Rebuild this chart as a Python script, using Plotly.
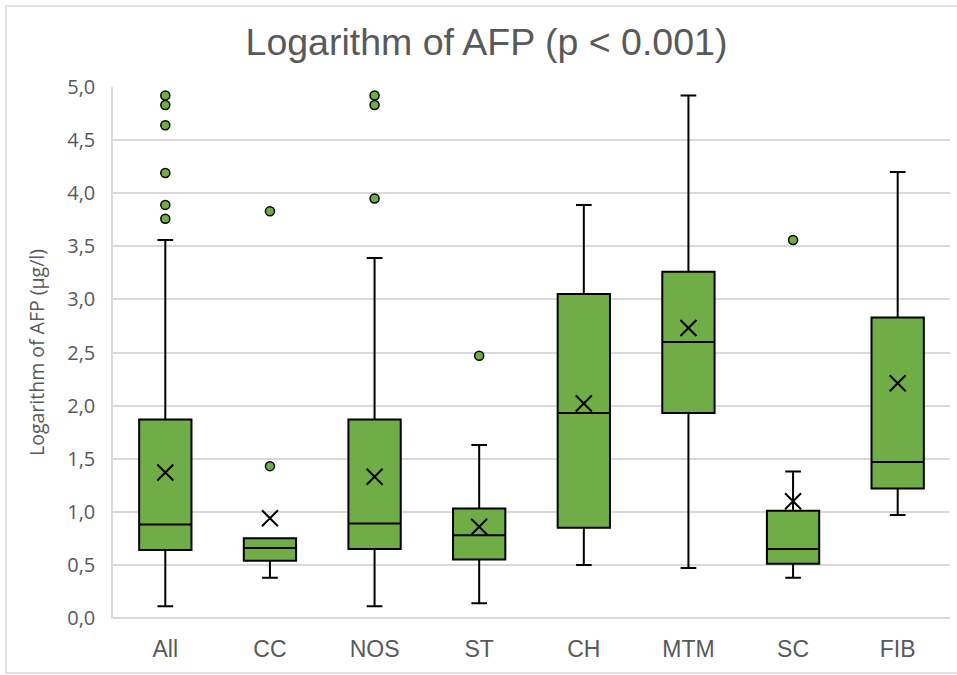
import plotly.graph_objects as go

categories = ["All", "CC", "NOS", "ST", "CH", "MTM", "SC", "FIB"]
lower_whisker = [0.11, 0.38, 0.11, 0.14, 0.50, 0.47, 0.38, 0.97]
q1 = [0.64, 0.54, 0.65, 0.55, 0.85, 1.93, 0.51, 1.22]
median = [0.88, 0.66, 0.89, 0.78, 1.93, 2.60, 0.65, 1.47]
q3 = [1.87, 0.75, 1.87, 1.03, 3.05, 3.26, 1.01, 2.83]
upper_whisker = [3.56, 0.75, 3.39, 1.63, 3.89, 4.92, 1.38, 4.20]
mean = [1.37, 0.94, 1.33, 0.86, 2.02, 2.73, 1.10, 2.21]

outlier_cat = ["All", "All", "All", "All", "All", "All",
               "CC", "CC", "NOS", "NOS", "NOS", "ST", "SC"]
outlier_val = [4.92, 4.83, 4.64, 4.19, 3.89, 3.76,
               3.83, 1.43, 4.92, 4.83, 3.95, 2.47, 3.56]

GREEN = "#70AD47"
GRID = "#D9D9D9"
TXT = "#595959"

fig = go.Figure()
fig.add_trace(go.Box(
    x=categories, q1=q1, median=median, q3=q3,
    lowerfence=lower_whisker, upperfence=upper_whisker,
    fillcolor=GREEN, line=dict(color="black", width=2),
    width=0.5, whiskerwidth=0.3, boxpoints=False,
    showlegend=False, hoverinfo="skip",
))
fig.add_trace(go.Scatter(
    x=outlier_cat, y=outlier_val, mode="markers",
    marker=dict(symbol="circle", size=9, color=GREEN,
                line=dict(color="black", width=1.5)),
    showlegend=False, hoverinfo="skip",
))
fig.add_trace(go.Scatter(
    x=categories, y=mean, mode="markers",
    marker=dict(symbol="x-thin", size=16, color="black",
                line=dict(color="black", width=2)),
    showlegend=False, hoverinfo="skip",
))

L, R, T, B = 113, 7, 87, 57
W, H = 957, 675
pw, ph = W - L - R, H - T - B

def px2paper_x(px):
    return (px - L) / pw

def py2paper_y(py):
    return (H - B - py) / ph

fig.add_shape(type="rect", xref="paper", yref="paper",
              x0=px2paper_x(6), x1=px2paper_x(975),
              y0=py2paper_y(673), y1=py2paper_y(6),
              line=dict(color=GRID, width=1.5), layer="below")

fig.add_annotation(text="Logarithm of AFP (µg/l)", textangle=-90,
                   xref="paper", yref="paper",
                   x=px2paper_x(36), y=py2paper_y(353),
                   xanchor="center", yanchor="middle", showarrow=False,
                   font=dict(family="Open Sans", size=19.5, color=TXT))

fig.update_layout(
    width=W, height=H,
    margin=dict(l=L, r=R, t=T, b=B),
    paper_bgcolor="white", plot_bgcolor="white",
    separators=", ",
    title=dict(text="Logarithm of AFP (p < 0.001)",
               font=dict(family="Liberation Sans, Arial", size=37.5, color=TXT),
               x=486.5 / W, xref="container", xanchor="center",
               y=1 - 42 / H, yref="container", yanchor="middle"),
    xaxis=dict(type="category", range=[-0.5, 7.5], showgrid=False,
               showline=False, zeroline=False, ticks="",
               tickfont=dict(family="Liberation Sans, Arial", size=23, color=TXT),
               ticklabelstandoff=15),
    yaxis=dict(range=[0, 5], dtick=0.5, tickformat=".1f",
               showgrid=True, gridcolor=GRID, gridwidth=1.5,
               zeroline=True, zerolinecolor=GRID, zerolinewidth=1.5,
               showline=True, linecolor=GRID, linewidth=1.5,
               ticks="", ticklabelstandoff=12,
               tickfont=dict(family="Open Sans", size=20, color=TXT)),
)

fig.write_html("out.html")
